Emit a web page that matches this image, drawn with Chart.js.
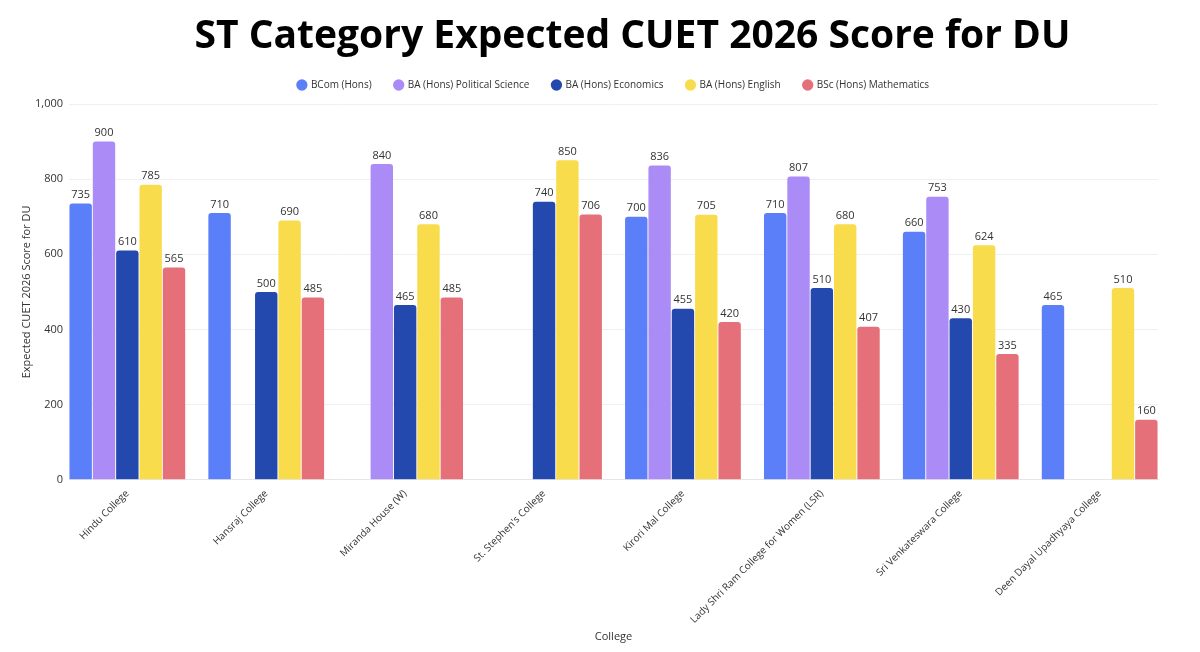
<!DOCTYPE html>
<html>
<head>
<meta charset="utf-8">
<script src="https://cdn.jsdelivr.net/npm/chart.js@4.4.1/dist/chart.umd.min.js"></script>
<style>
  html, body { margin: 0; padding: 0; background: #fff; }
  #wrap { width: 1200px; height: 652px; position: relative; }
  #title {
    position: absolute; top: 8px; left: 0; width: 1200px; box-sizing: border-box;
    padding-left: 65px; text-align: center;
    font: bold 39px/50px 'Open Sans', sans-serif; color: #000;
  }
</style>
</head>
<body>
<div id="wrap">
  <div id="title">ST Category Expected CUET 2026 Score for DU</div>
  <canvas id="chart"></canvas>
</div>
<script>
const colleges = [
  "Hindu College", "Hansraj College", "Miranda House (W)", "St. Stephen's College",
  "Kirori Mal College", "Lady Shri Ram College for Women (LSR)",
  "Sri Venkateswara College", "Deen Dayal Upadhyaya College"
];
const seriesNames = [
  "BCom (Hons)", "BA (Hons) Political Science", "BA (Hons) Economics",
  "BA (Hons) English", "BSc (Hons) Mathematics"
];
const bcom = [735, 710, null, null, 700, 710, 660, 465];
const polSci = [900, null, 840, null, 836, 807, 753, null];
const economics = [610, 500, 465, 740, 455, 510, 430, null];
const english = [785, 690, 680, 850, 705, 680, 624, 510];
const maths = [565, 485, 485, 706, 420, 407, 335, 160];
const seriesColors = ["#5b7ff8", "#ab8bf5", "#2449ae", "#f9dc4c", "#e6707a"];

const allValues = [bcom, polSci, economics, english, maths];

// groups sit flush with the plot edges, so the x axis runs on index positions
const groupShare = 0.84;
const positions = colleges.map((c, i) => i);

// draws the value above every bar
const valueLabels = {
  id: "valueLabels",
  afterDatasetsDraw(chart) {
    const ctx = chart.ctx;
    ctx.save();
    ctx.font = "11px 'Open Sans', sans-serif";
    ctx.fillStyle = "#333";
    ctx.textAlign = "center";
    ctx.textBaseline = "bottom";
    chart.data.datasets.forEach((ds, i) => {
      chart.getDatasetMeta(i).data.forEach((bar, j) => {
        if (ds.data[j] == null) return;
        ctx.fillText(ds.data[j], bar.x, bar.y - 3);
      });
    });
    ctx.restore();
  }
};

// a bit more room under the legend
const legendGap = {
  id: "legendGap",
  afterInit(chart) {
    const fit = chart.legend.fit;
    chart.legend.fit = function () {
      fit.call(this);
      this.height += 4;
    };
  }
};

const datasets = seriesNames.map((name, i) => ({
  label: name,
  data: allValues[i],
  backgroundColor: seriesColors[i],
  borderRadius: { topLeft: 3, topRight: 3 },
  borderSkipped: "bottom",
  categoryPercentage: groupShare,
  barPercentage: 0.96
}));

new Chart(document.getElementById("chart"), {
  type: "bar",
  data: { labels: positions, datasets: datasets },
  plugins: [valueLabels, legendGap],
  options: {
    responsive: true,
    maintainAspectRatio: false,
    animation: false,
    layout: { padding: { left: 16, right: 42, top: 57, bottom: 5 } },
    plugins: {
      legend: {
        position: "top",
        fullSize: false,
        labels: {
          usePointStyle: true,
          pointStyle: "circle",
          boxWidth: 8,
          boxHeight: 8,
          padding: 23,
          color: "#333",
          font: { size: 10, family: "'Open Sans', sans-serif" }
        }
      },
      tooltip: { enabled: false }
    },
    scales: {
      x: {
        type: "linear",
        bounds: "data",
        offset: false,
        min: -groupShare / 2,
        max: colleges.length - 1 + groupShare / 2,
        grid: { display: false },
        border: { color: "#e6e6e6" },
        afterBuildTicks(scale) {
          scale.ticks = positions.map((v) => ({ value: v }));
        },
        ticks: {
          autoSkip: false,
          maxRotation: 45,
          minRotation: 45,
          padding: 0,
          color: "#333",
          font: { size: 10, family: "'Open Sans', sans-serif" },
          callback: (v) => colleges[v]
        },
        title: {
          display: true,
          text: "College",
          color: "#333",
          font: { size: 11, family: "'Open Sans', sans-serif" },
          padding: { top: 4, bottom: 4 }
        }
      },
      y: {
        min: 0,
        max: 1000,
        grid: { color: "#f0f0f0", drawTicks: false },
        border: { display: false },
        afterFit(scale) { scale.width = 53; },
        ticks: {
          stepSize: 200,
          color: "#333",
          padding: 6,
          font: { size: 11, family: "'Open Sans', sans-serif" }
        },
        title: {
          display: true,
          text: "Expected CUET 2026 Score for DU",
          color: "#333",
          font: { size: 11, family: "'Open Sans', sans-serif" }
        }
      }
    }
  }
});
</script>
</body>
</html>
